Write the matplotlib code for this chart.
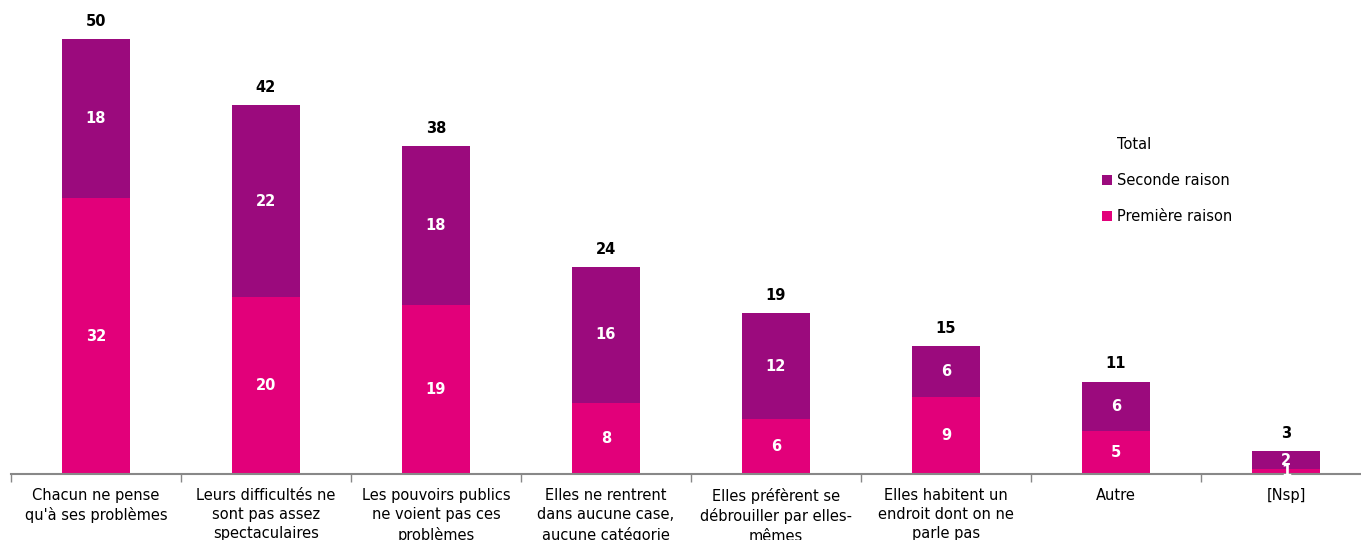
import matplotlib.pyplot as plt
import numpy as np
from matplotlib.patches import Patch

categories = [
    "Chacun ne pense\nqu'à ses problèmes",
    "Leurs difficultés ne\nsont pas assez\nspectaculaires",
    "Les pouvoirs publics\nne voient pas ces\nproblèmes",
    "Elles ne rentrent\ndans aucune case,\naucune catégorie",
    "Elles préfèrent se\ndébrouiller par elles-\nmêmes",
    "Elles habitent un\nendroit dont on ne\nparle pas",
    "Autre",
    "[Nsp]",
]
# segment heights as drawn (unrounded), and the rounded labels shown
premiere = [31.7, 20.3, 19.4, 8.2, 6.3, 8.9, 4.9, 0.6]
seconde = [18.3, 22.1, 18.3, 15.6, 12.2, 5.8, 5.7, 2.0]
premiere_lbl = [32, 20, 19, 8, 6, 9, 5, 1]
seconde_lbl = [18, 22, 18, 16, 12, 6, 6, 2]
total_lbl = [50, 42, 38, 24, 19, 15, 11, 3]

c_first = "#E2007A"
c_second = "#9B0A7D"

plt.rcParams["font.family"] = ["DejaVu Sans"]

fig = plt.figure(figsize=(13.61, 5.40), dpi=100)
ax = fig.add_axes([11 / 1361, 1 - 474 / 540, 1360 / 1361, 474 / 540])

x = np.arange(len(categories))
w = 0.4
ax.bar(x, premiere, w, color=c_first)
ax.bar(x, seconde, w, bottom=premiere, color=c_second)

for i in x:
    p, s = premiere[i], seconde[i]
    ax.text(i, p / 2, str(premiere_lbl[i]), ha="center", va="center",
            color="white", fontsize=10.5, fontweight="bold")
    ax.text(i, p + s / 2, str(seconde_lbl[i]), ha="center", va="center",
            color="white", fontsize=10.5, fontweight="bold")
    ax.text(i, p + s + 1.2, str(total_lbl[i]), ha="center", va="bottom",
            color="black", fontsize=10.5, fontweight="bold")

ax.set_xlim(-0.5, len(categories) - 0.5)
ax.set_ylim(0, 474 / 8.7)
ax.set_yticks([])
ax.set_xticks(x)
ax.set_xticklabels(categories, fontsize=10.5, linespacing=1.35, va="top")
ax.tick_params(axis="x", which="major", length=0, pad=10)
ax.set_xticks(np.arange(-0.5, len(categories), 1), minor=True)
ax.tick_params(axis="x", which="minor", length=6, color="#888888", width=1)
for side in ["top", "right", "left"]:
    ax.spines[side].set_visible(False)
ax.spines["bottom"].set_color("#888888")
ax.spines["bottom"].set_linewidth(1.5)

handles = [
    Patch(facecolor="none", edgecolor="none", label="Total"),
    Patch(facecolor=c_second, label="Seconde raison"),
    Patch(facecolor=c_first, label="Première raison"),
]
ax.legend(handles=handles, loc="upper left", bbox_to_anchor=(1078 / 1360, 1 - 124 / 474),
          frameon=False, fontsize=10.5, handlelength=0.7, handleheight=0.7,
          handletextpad=0.3, labelspacing=1.45)

fig.savefig("out.png", dpi=100)
